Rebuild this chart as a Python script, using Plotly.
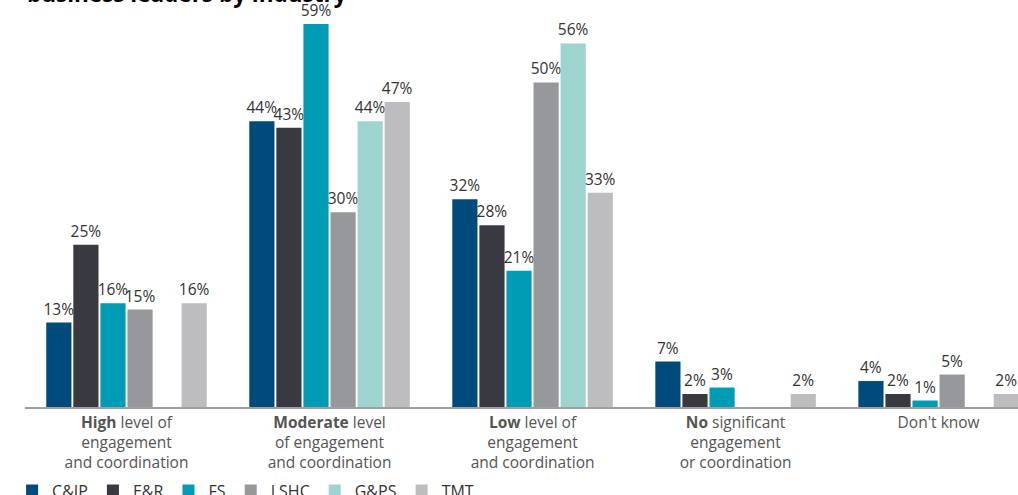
import plotly.graph_objects as go

categories = [
    "<b>High</b> level of<br>engagement<br>and coordination",
    "<b>Moderate</b> level<br>of engagement<br>and coordination",
    "<b>Low</b> level of<br>engagement<br>and coordination",
    "<b>No</b> significant<br>engagement<br>or coordination",
    "Don't know",
]
series_names = ["C&IP", "E&R", "FS", "LSHC", "G&PS", "TMT"]
cip = [13, 44, 32, 7, 4]
er = [25, 43, 28, 2, 2]
fs = [16, 59, 21, 3, 1]
lshc = [15, 30, 50, None, 5]
gps = [None, 44, 56, None, None]
tmt = [16, 47, 33, 2, 2]
values = [cip, er, fs, lshc, gps, tmt]
colors = ["#004a7c", "#393a41", "#009bb4", "#97989c", "#9dd4cf", "#bdbdbf"]

x_idx = list(range(len(categories)))

fig = go.Figure()
for name, vals, col in zip(series_names, values, colors):
    fig.add_trace(go.Bar(
        x=x_idx, y=vals, name=name, marker_color=col,
        text=[f"{v}%" if v is not None else "" for v in vals],
        textposition="outside", constraintext="none", cliponaxis=False,
        textfont=dict(family="Open Sans", size=15.5, color="#333333"),
        marker_line_width=0,
    ))

fig.update_layout(
    width=1018, height=495,
    margin=dict(l=25, r=0, t=11, b=88, autoexpand=False),
    barmode="group", bargap=0.2, bargroupgap=0.07,
    plot_bgcolor="white", paper_bgcolor="white",
    font=dict(family="Open Sans", size=15.5, color="#555555"),
    showlegend=True,
    legend=dict(orientation="h", x=-0.013, xanchor="left", y=-0.168, yanchor="top",
                font=dict(family="Open Sans", size=16, color="#333333"),
                itemwidth=30, traceorder="normal"),
    xaxis=dict(tickmode="array", tickvals=x_idx, ticktext=categories,
               range=[-0.5, 4.391], showline=True, linecolor="#a0a0a0", linewidth=2,
               showgrid=False, zeroline=False, ticks="", automargin=False,
               tickfont=dict(family="Open Sans", size=15.5, color="#555555")),
    yaxis=dict(range=[0, 61], visible=False, showgrid=False, zeroline=False, automargin=False),
    annotations=[dict(text="<b>business leaders by industry</b>", xref="paper", yref="paper",
                      x=0.0, xanchor="left", y=1.044, yanchor="middle", showarrow=False,
                      font=dict(family="Open Sans", size=22.5, color="#000000"))],
)

fig.write_html("out.html", config={"displayModeBar": False},
               post_script="document.body.style.margin='0';")
